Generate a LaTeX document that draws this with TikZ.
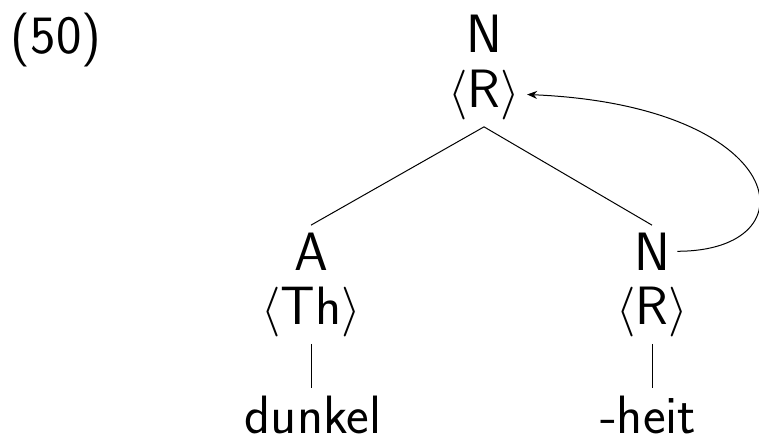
\documentclass[tikz,border=0pt]{standalone}
\usetikzlibrary{arrows.meta}
\begin{document}
\begin{tikzpicture}[x=0.5pt,y=-0.5pt,
  lbl/.style={font=\sffamily\fontsize{27}{32}\selectfont, inner sep=3.5pt, anchor=base},
  leaf/.style={lbl, inner sep=0pt},
  branch/.style={line width=0.5pt},
  link/.style={line width=0.5pt, -{Stealth[length=5pt,width=4pt]}}]
\useasboundingbox (0,0) rectangle (759,441);

% example number
\node[lbl] (ex) at (56,53) {(50)};

% mother node
\node[lbl] (Ntop) at (484,52) {N};
\node[lbl] (Rtop) at (484,107) {$\langle$R$\rangle$};

% left daughter
\node[lbl] (A) at (311,270) {A};
\node[lbl] (Th) at (311,324) {$\langle$Th$\rangle$};
\node[leaf] (dunkel) at (313,433) {dunkel};

% right daughter
\node[lbl] (Nr) at (652,270) {N};
\node[lbl] (Rr) at (652,324) {$\langle$R$\rangle$};
\node[leaf] (heit) at (648,433) {-heit};

% branches
\draw[branch] (Rtop.south) -- (A.north);
\draw[branch] (Rtop.south) -- (Nr.north);
\draw[branch, shorten >=3.5pt] (Th.south) -- (Th.south |- dunkel.north);
\draw[branch, shorten >=3.5pt] (Rr.south) -- (Rr.south |- heit.north);

% feature percolation arrow
\draw[link] (Nr.east) .. controls +(138,0) and +(262,11) .. (Rtop.east);
\end{tikzpicture}
\end{document}
